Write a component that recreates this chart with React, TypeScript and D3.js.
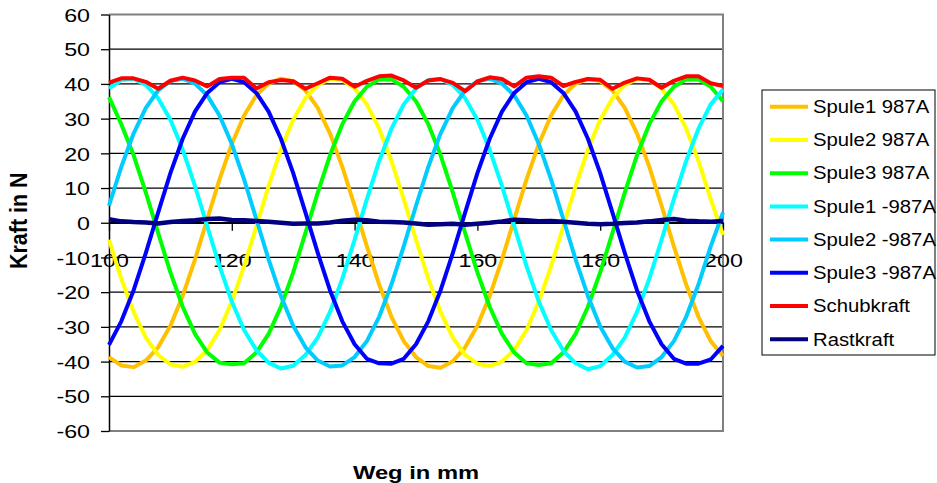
import React, {useEffect, useRef} from 'react';
import * as d3 from 'd3';

// Weg in mm (Messpunkte alle 2 mm)
const weg = [100, 102, 104, 106, 108, 110, 112, 114, 116, 118, 120, 122, 124, 126, 128, 130, 132, 134, 136, 138,
  140, 142, 144, 146, 148, 150, 152, 154, 156, 158, 160, 162, 164, 166, 168, 170, 172, 174, 176, 178,
  180, 182, 184, 186, 188, 190, 192, 194, 196, 198, 200];

// Kraft in N
const spule1Plus = [-38.7, -41.1, -41.6, -39.7, -35.9, -29.7, -21.1, -10.6, 1.0, 12.5, 22.7, 30.9, 36.7, 40.1, 41.5, 40.8, 38.1, 33.1, 25.7, 16.1, 4.9, -6.8, -17.8, -27.1, -34.1,
  -38.7, -41.3, -41.8, -39.9, -35.9, -29.7, -21.1, -10.6, 1.0, 12.5, 22.7, 30.9, 36.7, 40.1, 41.5, 40.8, 38.1, 33.1, 25.7, 16.1, 4.9, -6.8, -17.8, -27.1, -34.1, -38.4];
const spule2Plus = [-4.9, -16.1, -25.7, -33.1, -38.1, -40.8, -41.5, -40.1, -36.7, -30.9, -22.7, -12.5, -1.0, 10.6, 21.1, 29.7, 35.9, 39.7, 41.4, 41.1, 38.7, 34.1, 27.1, 17.8, 6.8,
  -4.9, -16.1, -25.7, -33.1, -38.1, -40.6, -41.3, -40.0, -36.7, -30.9, -22.7, -12.5, -1.0, 10.6, 21.1, 29.7, 35.9, 39.7, 41.4, 41.1, 38.7, 34.1, 27.1, 17.8, 6.8, -3.5];
const spule3Plus = [36.2, 28.4, 19.5, 8.7, -2.9, -14.3, -24.2, -32.0, -37.4, -40.3, -40.8, -40.5, -37.4, -32.0, -24.2, -14.3, -2.9, 8.7, 19.5, 28.4, 35.0, 39.2, 41.3, 41.3, 39.2,
  35.0, 28.4, 19.5, 8.7, -2.9, -14.3, -24.2, -32.0, -37.4, -40.5, -41.0, -40.5, -37.4, -32.0, -24.2, -14.3, -2.9, 8.7, 19.5, 28.4, 35.0, 39.2, 41.3, 41.3, 39.2, 35.0];
const spule1Minus = [38.7, 41.1, 41.4, 39.7, 35.9, 29.7, 21.1, 10.6, -1.0, -12.5, -22.7, -30.9, -36.7, -40.3, -42.0, -41.2, -38.1, -33.1, -25.7, -16.1, -4.9, 6.8, 17.8, 27.1, 34.1,
  38.7, 41.1, 41.4, 39.7, 35.9, 29.7, 21.1, 10.6, -1.0, -12.5, -22.7, -30.9, -36.9, -40.5, -42.2, -41.3, -38.1, -33.1, -25.7, -16.1, -4.9, 6.8, 17.8, 27.1, 34.1, 38.4];
const spule2Minus = [4.9, 16.1, 25.7, 33.1, 38.1, 40.8, 41.5, 40.1, 36.7, 30.9, 22.7, 12.5, 1.0, -10.6, -21.1, -29.7, -35.9, -39.7, -41.4, -41.1, -38.7, -34.1, -27.1, -17.8, -6.8,
  4.9, 16.1, 25.7, 33.1, 38.1, 40.8, 41.5, 40.1, 36.7, 30.9, 22.7, 12.5, 1.0, -10.6, -21.1, -29.9, -36.1, -40.0, -41.7, -41.3, -38.7, -34.1, -27.1, -17.8, -6.8, 3.0];
const spule3Minus = [-35.2, -28.4, -19.5, -8.7, 2.9, 14.3, 24.2, 32.0, 37.4, 40.5, 41.5, 40.5, 37.4, 32.0, 24.2, 14.3, 2.9, -8.7, -19.5, -28.4, -35.0, -39.2, -40.5, -40.6, -39.2,
  -35.0, -28.4, -19.5, -8.7, 2.9, 14.3, 24.2, 32.0, 37.4, 40.5, 41.5, 40.5, 37.4, 32.0, 24.2, 14.3, 2.9, -8.7, -19.5, -28.4, -35.0, -39.2, -40.6, -40.6, -39.4, -35.5];
const schubkraft = [40.4, 41.6, 41.6, 40.6, 38.6, 40.9, 41.8, 41.0, 39.3, 41.4, 41.8, 41.8, 38.7, 40.5, 41.1, 40.8, 38.6, 40.2, 41.8, 41.5,
  39.2, 40.9, 42.2, 42.4, 41.0, 38.9, 41.0, 41.4, 40.3, 37.9, 40.7, 41.9, 41.4, 39.3, 41.8, 42.2, 41.8, 39.4, 40.6, 41.4,
  41.2, 38.6, 40.4, 41.6, 41.2, 38.9, 40.9, 42.2, 42.2, 40.2, 39.4];
const rastkraft = [1.0, 0.4, 0.2, 0.1, -0.2, 0.2, 0.5, 0.7, 1.1, 1.2, 0.8, 0.7, 0.5, 0.3, 0.0, -0.3, -0.2, -0.2, 0.1, 0.6,
  0.9, 0.7, 0.3, 0.2, 0.1, -0.2, -0.6, -0.4, -0.3, -0.6, -0.3, 0.0, 0.4, 0.9, 0.7, 0.4, 0.5, 0.3, 0.0, -0.3,
  -0.4, -0.3, -0.1, 0.1, 0.4, 0.8, 1.1, 0.6, 0.4, 0.3, 0.5];

const seriesNames = ['Spule1 987A', 'Spule2 987A', 'Spule3 987A', 'Spule1 -987A', 'Spule2 -987A', 'Spule3 -987A', 'Schubkraft', 'Rastkraft'];
const seriesValues = [spule1Plus, spule2Plus, spule3Plus, spule1Minus, spule2Minus, spule3Minus, schubkraft, rastkraft];
const seriesColors = ['#FFC000', '#FFFF00', '#00FF00', '#00FFFF', '#00CCFF', '#0000FF', '#FF0000', '#000080'];

const xTicks = [100, 120, 140, 160, 180, 200];
const yTicks = [60, 50, 40, 30, 20, 10, 0, -10, -20, -30, -40, -50, -60];

const FONT = "'Liberation Sans', Arial, sans-serif";

const App: React.FC = () => {
  const ref = useRef<SVGSVGElement>(null);
  const width = 937;
  const height = 483;

  useEffect(() => {
    const svg = d3.select(ref.current);
    svg.selectAll('*').remove();

    const left = 109, right = 723, top = 14.5, bottom = 431;
    const x = d3.scaleLinear([100, 200], [left, right]);
    const y = d3.scaleLinear([-60, 60], [bottom, top]);
    const sx = 1.25; // Schrift ist in der Vorlage horizontal gestreckt

    // Gitterlinien
    svg.append('g')
      .selectAll('line')
      .data(yTicks.filter(v => v > -60 && v < 60))
      .join('line')
      .attr('x1', left).attr('x2', right)
      .attr('y1', d => y(d)).attr('y2', d => y(d))
      .attr('stroke', '#000').attr('stroke-width', 1.3);

    // Rahmen der Zeichenfläche (grau)
    svg.append('path')
      .attr('d', `M${left},${y(60)}H${right}V${y(-60)}H${left}`)
      .attr('fill', 'none')
      .attr('stroke', '#808080')
      .attr('stroke-width', 2);

    // y-Achse
    svg.append('g')
      .attr('transform', `translate(${left},0)`)
      .attr('color', '#000')
      .call(d3.axisLeft(y).tickValues(yTicks).tickSize(8).tickSizeOuter(0).tickFormat(d => String(d)))
      .call(g => g.select('.domain').attr('stroke-width', 1.5))
      .call(g => g.selectAll('.tick line').attr('stroke-width', 1.3))
      .call(g => g.selectAll('.tick text')
        .attr('x', null).attr('dy', null)
        .attr('transform', `translate(-19,6.7) scale(${sx},1)`)
        .attr('font-family', FONT).attr('font-size', 18.6).attr('fill', '#000'));

    // x-Achse bei 0
    svg.append('g')
      .attr('transform', `translate(0,${y(0)})`)
      .attr('color', '#000')
      .call(d3.axisBottom(x).tickValues(xTicks).tickSize(8).tickSizeOuter(0).tickFormat(d => String(d)))
      .call(g => g.select('.domain').attr('stroke-width', 1.5))
      .call(g => g.selectAll('.tick line').attr('stroke-width', 1.3))
      .call(g => g.selectAll('.tick text')
        .attr('y', 44).attr('dy', null)
        .attr('transform', `scale(${sx},1)`)
        .attr('font-family', FONT).attr('font-size', 18.6).attr('fill', '#000'));

    // Kurven
    const line = d3.line<number>()
      .x((_, i) => x(weg[i]))
      .y(d => y(d));

    seriesValues.forEach((vals, i) => {
      svg.append('path')
        .attr('d', line(vals))
        .attr('fill', 'none')
        .attr('stroke', seriesColors[i])
        .attr('stroke-width', i === 7 ? 4.5 : 4)
        .attr('stroke-linejoin', 'round');
    });

    // Achsentitel
    svg.append('text')
      .attr('transform', `translate(${(left + right) / 2},479) scale(${sx},1)`)
      .attr('text-anchor', 'middle')
      .attr('font-family', FONT).attr('font-weight', 'bold').attr('font-size', 19)
      .text('Weg in mm');

    svg.append('text')
      .attr('transform', `translate(27,${(top + bottom) / 2 - 2}) scale(1.12,1) rotate(-90)`)
      .attr('text-anchor', 'middle')
      .attr('font-family', FONT).attr('font-weight', 'bold').attr('font-size', 21.5)
      .text('Kraft in N');

    // Legende
    const legend = svg.append('g');
    legend.append('rect')
      .attr('x', 762).attr('y', 90).attr('width', 173).attr('height', 265)
      .attr('fill', '#fff').attr('stroke', '#000').attr('stroke-width', 1);

    const rowY = d3.scalePoint(seriesNames, [106.7, 339.3]);
    const rows = legend.selectAll('g.row')
      .data(seriesNames)
      .join('g')
      .attr('class', 'row')
      .attr('transform', d => `translate(0,${rowY(d)})`);
    rows.append('line')
      .attr('x1', 770).attr('x2', 808)
      .attr('stroke', (_, i) => seriesColors[i])
      .attr('stroke-width', 4);
    rows.append('text')
      .attr('transform', `translate(813,6.3) scale(1.16,1)`)
      .attr('font-family', FONT).attr('font-size', 17.5)
      .text(d => d);
  }, []);

  return <svg ref={ref} width={width} height={height}
              style={{position: 'absolute', left: 0, top: 0, background: '#fff'}}/>;
};

export default App;
